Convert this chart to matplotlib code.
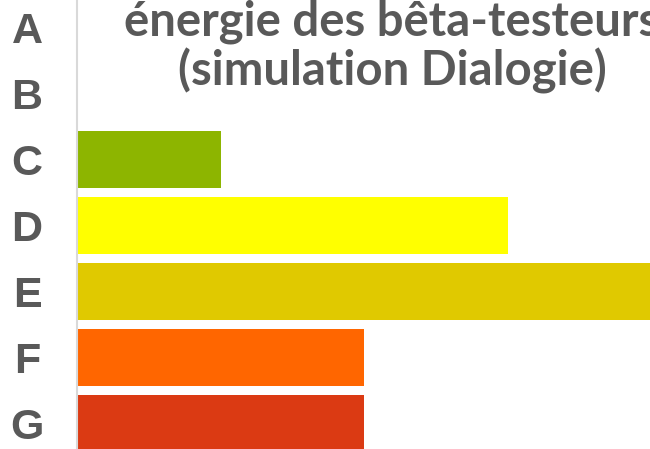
import matplotlib
matplotlib.use("Agg")
import matplotlib.pyplot as plt

categories = ["A", "B", "C", "D", "E", "F", "G"]
values = [0, 0, 1, 3, 4, 2, 2]
colors = ["#00A650", "#50B848", "#8DB500", "#FFFF00", "#E0C900", "#FF6600", "#DB3A13"]
title = "énergie des bêta-testeurs\n(simulation Dialogie)"

W, H = 650, 449
fig = plt.figure(figsize=(W / 100, H / 100), dpi=100)
ax = fig.add_axes([77 / W, 0, 1 - 77 / W, 1])

y = list(range(len(categories)))
ax.barh(y, values, height=0.86, color=colors, edgecolor="none")

ax.set_ylim((449 - 27.5) / 66, -27.5 / 66)
ax.set_xlim(0, 3.99)

for s in ["top", "right", "bottom"]:
    ax.spines[s].set_visible(False)
ax.spines["left"].set_color("#d9d9d9")
ax.spines["left"].set_linewidth(1.5)
ax.set_xticks([])
ax.set_yticks(y)
ax.set_yticklabels(categories, fontsize=31, fontweight="bold", color="#595959",
                   family="Liberation Sans")
ax.tick_params(axis="y", length=0, pad=36)
for lab in ax.get_yticklabels():
    lab.set_horizontalalignment("center")

fig.text(392 / W, 1 - 85 / H, title, ha="center", va="baseline", multialignment="center",
         fontsize=34, fontweight="bold", color="#595959", family="Lato", linespacing=1.08)

fig.savefig("out.png", dpi=100)
